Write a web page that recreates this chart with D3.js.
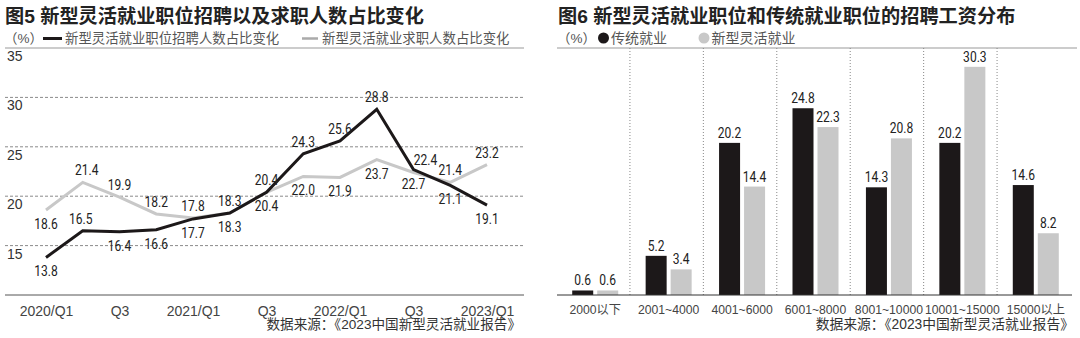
<!DOCTYPE html>
<html lang="zh">
  <head>
    <meta charset="utf-8" />
    <title>新型灵活就业</title>
    <script type="text/javascript" src="https://d3js.org/d3.v7.min.js"></script>
    <style>
      body { margin: 0; background: #fff; }
      text { font-family: "Liberation Sans", Arial, "Noto Sans CJK SC", sans-serif; }
      .num { font-family: Roboto, "DejaVu Sans Condensed", sans-serif; }
    </style>
  </head>
  <body>
    <div id="graph"></div>

    <script type="text/javascript">
      /***************
       * data
       ***************/

      // fig 5: quarterly shares (%)
      const quarters = ["2020/Q1", "2020/Q2", "2020/Q3", "2020/Q4", "2021/Q1", "2021/Q2", "2021/Q3",
        "2021/Q4", "2022/Q1", "2022/Q2", "2022/Q3", "2022/Q4", "2023/Q1"];
      const quarterTicks = ["2020/Q1", "2020/Q3", "2021/Q1", "2021/Q3", "2022/Q1", "2022/Q3", "2023/Q1"];
      const recruitShare = [13.8, 16.5, 16.4, 16.6, 17.7, 18.3, 20.4, 24.3, 25.6, 28.8, 22.7, 21.1, 19.1];
      const seekerShare = [18.6, 21.4, 19.9, 18.2, 17.8, 18.3, 20.4, 22.0, 21.9, 23.7, 22.4, 21.4, 23.2];
      const lineYTicks = [15, 20, 25, 30, 35];

      // label side for each point (a = above, b = below)
      const recruitLabelSide = ["b", "a", "b", "b", "b", "b", "a", "a", "a", "a", "b", "b", "b"];
      const seekerLabelSide = ["b", "a", "a", "a", "a", "a", "b", "b", "b", "b", "a", "a", "a"];

      // fig 6: salary distribution (%)
      const salaryBands = ["2000以下", "2001~4000", "4001~6000", "6001~8000", "8001~10000", "10001~15000", "15000以上"];
      const traditionalJobs = [0.6, 5.2, 20.2, 24.8, 14.3, 20.2, 14.6];
      const flexibleJobs = [0.6, 3.4, 14.4, 22.3, 20.8, 30.3, 8.2];
      const barSeries = ["传统就业", "新型灵活就业"];

      const source = "数据来源：《2023中国新型灵活就业报告》";

      /***************************
       * create svg
       **************************/

      const width = 1080;
      const height = 338;
      const black = "#1c1819";
      const grey = "#c8c8c8";
      const textColor = "#333";

      const svg = d3
        .select("div#graph")
        .append("svg")
        .attr("width", width)
        .attr("height", height);

      svg.append("rect").attr("width", width).attr("height", height).attr("fill", "#fff");

      // the value labels use a narrow DIN-like face; squeeze Roboto to match
      function condense(sel, k) {
        sel.each(function () {
          const w = this.getComputedTextLength();
          d3.select(this).attr("textLength", w * k).attr("lengthAdjust", "spacingAndGlyphs");
        });
      }

      /**************
       * fig 5 - lines
       **************/

      const left = svg.append("g");

      left.append("text")
        .attr("x", 5).attr("y", 22.5)
        .attr("font-size", 19.2).attr("font-weight", 700).attr("fill", "#222")
        .text("图5 新型灵活就业职位招聘以及求职人数占比变化");

      // legend
      left.append("text")
        .attr("x", 4).attr("y", 43).attr("font-size", 13.5).attr("fill", "#555")
        .text("（%）");
      left.append("line").attr("x1", 43).attr("x2", 62).attr("y1", 38.5).attr("y2", 38.5)
        .attr("stroke", black).attr("stroke-width", 3);
      left.append("text")
        .attr("x", 65).attr("y", 43).attr("font-size", 13.4).attr("fill", "#555")
        .text("新型灵活就业职位招聘人数占比变化");
      left.append("line").attr("x1", 302).attr("x2", 318).attr("y1", 38.5).attr("y2", 38.5)
        .attr("stroke", "#aaa").attr("stroke-width", 2.5);
      left.append("text")
        .attr("x", 322).attr("y", 43).attr("font-size", 13.4).attr("fill", "#555")
        .text("新型灵活就业求职人数占比变化");

      // scales
      const x = d3.scalePoint().domain(quarters).range([46, 487]);
      const y = d3.scaleLinear().domain([10, 35]).range([295, 48]);

      // grid
      left.selectAll("line.grid")
        .data(lineYTicks)
        .enter()
        .append("line")
        .attr("class", "grid")
        .attr("x1", 5).attr("x2", 524)
        .attr("y1", (d) => y(d)).attr("y2", (d) => y(d))
        .attr("stroke", (d) => (d === 35 ? "#999" : "#8a8a8a"))
        .attr("stroke-width", 1)
        .attr("stroke-dasharray", (d) => (d === 35 ? null : "3,2"));

      left.selectAll("text.ylab")
        .data(lineYTicks)
        .enter()
        .append("text")
        .attr("class", "ylab")
        .attr("x", 7)
        .attr("y", (d) => y(d) + 13)
        .attr("font-size", 14)
        .attr("fill", textColor)
        .text((d) => d);

      // x axis
      const xAxis = d3.axisBottom(x)
        .tickValues(quarterTicks)
        .tickSize(0)
        .tickPadding(11)
        .tickFormat((d) => (d.endsWith("Q3") ? "Q3" : d));

      const xg = left.append("g").attr("transform", "translate(0," + y(10) + ")").call(xAxis);
      xg.select(".domain").remove();
      xg.selectAll("text").attr("font-size", 14).attr("fill", "#444");
      left.append("line").attr("x1", 5).attr("x2", 524).attr("y1", y(10)).attr("y2", y(10))
        .attr("stroke", "#555").attr("stroke-width", 1);

      // lines
      const lineGen = d3.line().x((d, i) => x(quarters[i])).y((d) => y(d));

      left.append("path")
        .datum(seekerShare)
        .attr("d", lineGen)
        .attr("fill", "none")
        .attr("stroke", grey)
        .attr("stroke-width", 3);

      left.append("path")
        .datum(recruitShare)
        .attr("d", lineGen)
        .attr("fill", "none")
        .attr("stroke", black)
        .attr("stroke-width", 3);

      // point labels
      function pointLabels(values, sides, cls, nudge) {
        left.selectAll("text." + cls)
          .data(values)
          .enter()
          .append("text")
          .attr("class", "num " + cls)
          .attr("x", (d, i) => x(quarters[i]) + (nudge[i] || 0))
          .attr("y", (d, i) => (sides[i] === "a" ? y(d) - 7 : y(d) + 19))
          .attr("text-anchor", "middle")
          .attr("font-size", 14)
          .attr("fill", "#222")
          .text((d) => d.toFixed(1))
          .call(condense, 0.86);
      }
      pointLabels(recruitShare, recruitLabelSide, "rlab", { 1: -2 });
      pointLabels(seekerShare, seekerLabelSide, "slab", { 1: 4, 10: 12 });

      left.append("text")
        .attr("x", 521).attr("y", 329).attr("text-anchor", "end")
        .attr("font-size", 13.6).attr("fill", textColor)
        .text(source);

      /**************
       * fig 6 - bars
       **************/

      const right = svg.append("g");

      right.append("text")
        .attr("x", 558).attr("y", 22.5)
        .attr("font-size", 19.2).attr("font-weight", 700).attr("fill", "#222")
        .text("图6 新型灵活就业职位和传统就业职位的招聘工资分布");

      right.append("text")
        .attr("x", 557).attr("y", 43).attr("font-size", 13.5).attr("fill", "#555")
        .text("（%）");

      const color = d3.scaleOrdinal().domain(barSeries).range([black, grey]);
      const legendX = [603.5, 704];
      barSeries.forEach((s, i) => {
        right.append("circle").attr("cx", legendX[i]).attr("cy", 38).attr("r", 5.5).attr("fill", color(s));
        right.append("text")
          .attr("x", legendX[i] + 7.5).attr("y", 43).attr("font-size", 14).attr("fill", "#555")
          .text(s);
      });

      const x0 = d3.scaleBand().domain(salaryBands).range([558.5, 1072.5]);
      const bw = x0.bandwidth();
      const x1 = d3.scaleBand().domain(barSeries).range([bw / 2 - 23, bw / 2 + 23]).paddingInner(0.16);
      const yb = d3.scaleLinear().domain([0, 32.8]).range([295, 48]);

      right.append("line").attr("x1", 557).attr("x2", 1077).attr("y1", yb(32.8)).attr("y2", yb(32.8))
        .attr("stroke", "#999").attr("stroke-width", 1);

      // dotted separators
      right.selectAll("line.sep")
        .data(salaryBands.slice(1))
        .enter()
        .append("line")
        .attr("class", "sep")
        .attr("x1", (d) => x0(d) - 2).attr("x2", (d) => x0(d) - 2)
        .attr("y1", yb(32.8)).attr("y2", yb(0))
        .attr("stroke", "#888")
        .attr("stroke-width", 1)
        .attr("stroke-dasharray", "1,2");

      const rows = salaryBands.map((b, i) => ({ band: b, values: [traditionalJobs[i], flexibleJobs[i]] }));

      const groups = right.selectAll("g.grp")
        .data(rows)
        .enter()
        .append("g")
        .attr("class", "grp")
        .attr("transform", (d) => "translate(" + x0(d.band) + ",0)");

      const cells = groups.selectAll("g.cell")
        .data((d) => d.values.map((v, i) => ({ key: barSeries[i], value: v })))
        .enter()
        .append("g")
        .attr("class", "cell");

      cells.append("rect")
        .attr("x", (d) => x1(d.key))
        .attr("width", x1.bandwidth())
        .attr("y", (d) => yb(d.value))
        .attr("height", (d) => yb(0) - yb(d.value))
        .attr("fill", (d) => color(d.key));

      cells.append("text")
        .attr("class", "num")
        .attr("x", (d) => x1(d.key) + x1.bandwidth() / 2)
        .attr("y", (d) => yb(d.value) - 5)
        .attr("text-anchor", "middle")
        .attr("font-size", 14)
        .attr("fill", "#222")
        .text((d) => d.value.toFixed(1))
        .call(condense, 0.86);

      // axis
      const xbAxis = d3.axisBottom(x0).tickSize(0).tickPadding(10);
      const xbg = right.append("g").attr("transform", "translate(0," + yb(0) + ")").call(xbAxis);
      xbg.select(".domain").remove();
      xbg.selectAll("text").attr("font-size", 12.2).attr("fill", "#444");
      right.append("line").attr("x1", 557).attr("x2", 1072).attr("y1", yb(0)).attr("y2", yb(0))
        .attr("stroke", "#333").attr("stroke-width", 1);

      right.append("text")
        .attr("x", 1074).attr("y", 329).attr("text-anchor", "end")
        .attr("font-size", 13.8).attr("fill", textColor)
        .text(source);
    </script>
  </body>
</html>
